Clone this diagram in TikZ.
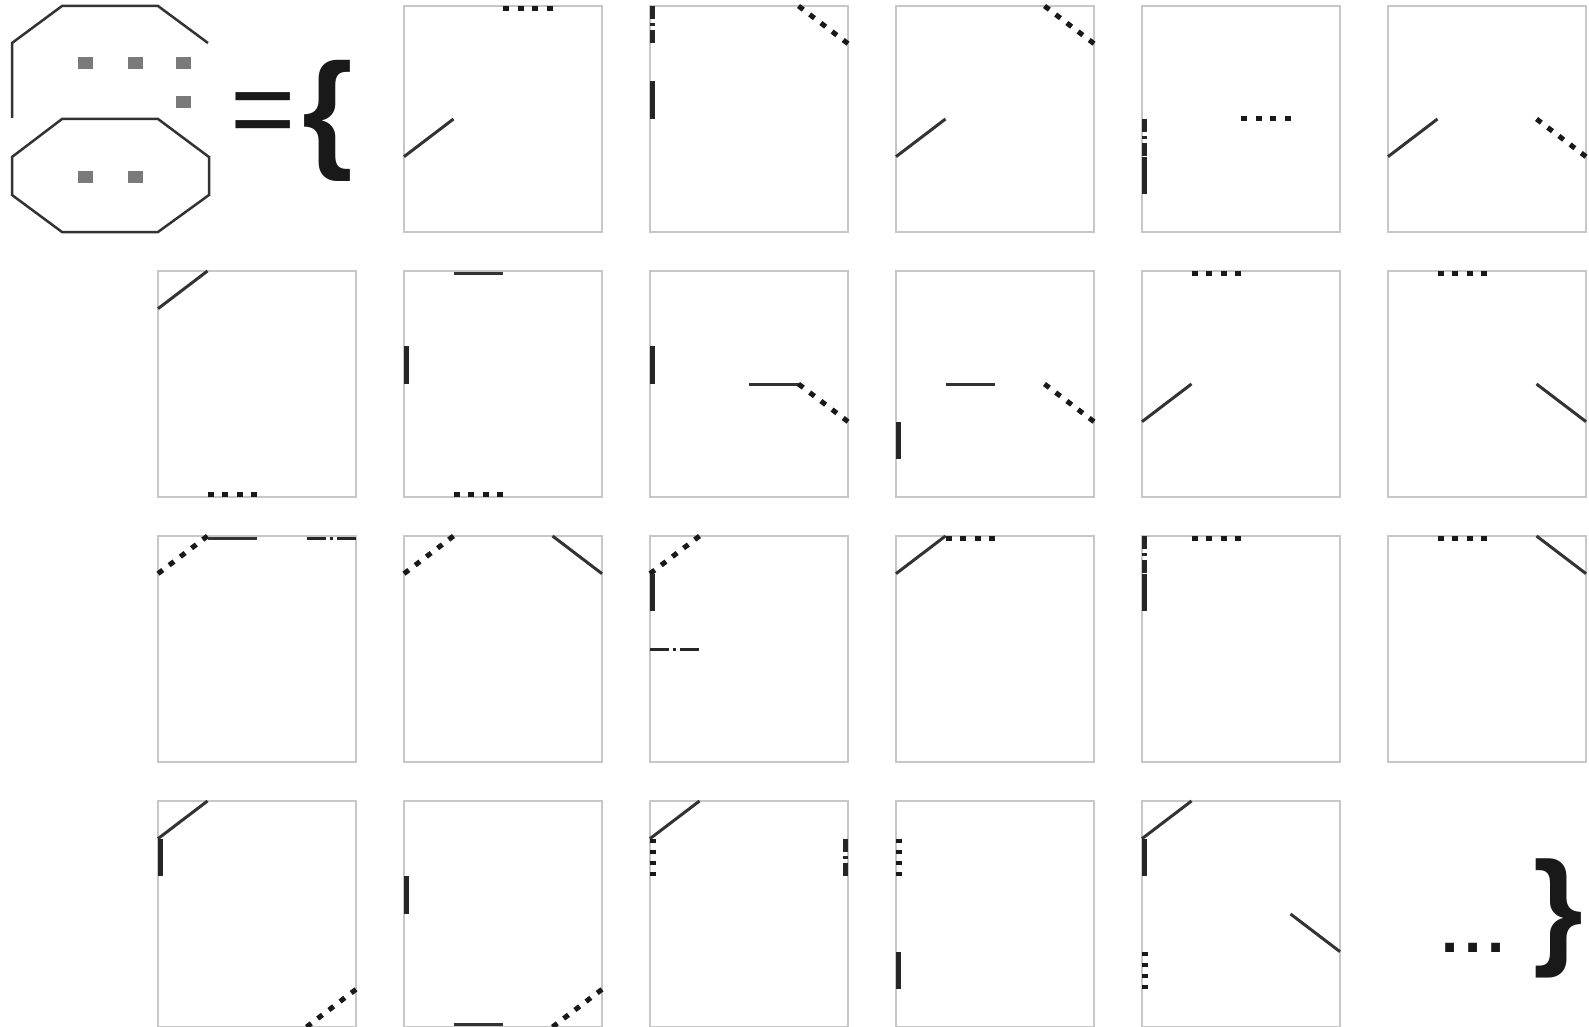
\documentclass[tikz,border=0pt]{standalone}
\usepackage{fontspec}
\setmainfont{Liberation Sans}

\tikzset{
  cellat/.style 2 args={shift={({158+246*(#1-1)},{6+265*(#2-1)})},x=49.5pt,y=-37.667pt},
  cellframe/.style={draw=black!22,line width=2pt},
  segline/.style={draw=black!80,line width=3pt},
  barline/.style={draw=black!85,line width=4.5pt},
  dotsH/.style={draw=black!90,line width=5pt,dash pattern=on 6pt off 8.5pt},
  dotsV/.style={draw=black!90,line width=6pt,dash pattern=on 4pt off 7.2pt},
  dotsD/.style={draw=black!90,line width=5pt,dash pattern=on 6pt off 8.05pt},
  dashdotH/.style={draw=black!85,line width=3pt,dash pattern=on 19pt off 4pt on 3pt off 4pt},
  dashdotV/.style={draw=black!85,line width=4.5pt,dash pattern=on 13pt off 4pt on 3pt off 4pt},
  onleft/.style={xshift=2.5pt},
  onright/.style={xshift=-2.5pt},
  ontop/.style={yshift=-2.5pt},
  onbottom/.style={yshift=2.5pt},
  outline/.style={draw=black!80,line width=2.5pt},
  bigsym/.style={inner sep=0pt,text=black!90,font=\bfseries\fontsize{#1}{#1}\selectfont},
  thinsym/.style={inner sep=0pt,text=black!90,font=\fontsize{#1}{#1}\selectfont}
}

\begin{document}
\begin{tikzpicture}[x=1pt,y=-1pt]

  \useasboundingbox (0,0) rectangle (1589,1027);

  % the shape and its parts
  \draw[outline] (12,118) -- (12,43) -- (62,6) -- (158,6) -- (208,43);
  \draw[outline] (62,119) -- (158,119) -- (209,157) -- (209,195) -- (158,232)
    -- (62,232) -- (12,195) -- (12,157) -- cycle;
  \foreach \p in {(85,63),(135,63),(183,63),(183,102),(85,177),(135,177)}
    \fill[black!52] \p +(-7.5,-6) rectangle +(7.5,6);

  \node[thinsym=112] (eqsign) at (263,120) {=};
  \node[bigsym=130] (lbrace) at (328,121) {\{};
  \node[bigsym=62] (moredots) at (1473,948) {.\kern6pt.\kern6pt.};
  \node[bigsym=128] (rbrace) at (1558,918) {\}};

  \foreach \c/\r in {2/1,3/1,4/1,5/1,6/1,1/2,2/2,3/2,4/2,5/2,6/2,
                     1/3,2/3,3/3,4/3,5/3,6/3,1/4,2/4,3/4,4/4,5/4}
    \draw[cellframe,cellat={\c}{\r}] (0,0) rectangle (4,6);

  % row 1
  \begin{scope}[cellat={2}{1}]
    \draw[dotsH,ontop] (2,0) -- (3,0);
    \draw[segline] (0,4) -- (1,3);
  \end{scope}
  \begin{scope}[cellat={3}{1}]
    \draw[dashdotV,onleft] (0,0) -- (0,1);
    \draw[barline,onleft] (0,2) -- (0,3);
    \draw[dotsD] (3,0) -- (4,1);
  \end{scope}
  \begin{scope}[cellat={4}{1}]
    \draw[segline] (0,4) -- (1,3);
    \draw[dotsD] (3,0) -- (4,1);
  \end{scope}
  \begin{scope}[cellat={5}{1}]
    \draw[dashdotV,onleft] (0,3) -- (0,4);
    \draw[barline,onleft] (0,4) -- (0,5);
    \draw[dotsH] (2,3) -- (3,3);
  \end{scope}
  \begin{scope}[cellat={6}{1}]
    \draw[segline] (0,4) -- (1,3);
    \draw[dotsD] (3,3) -- (4,4);
  \end{scope}

  % row 2
  \begin{scope}[cellat={1}{2}]
    \draw[segline] (0,1) -- (1,0);
    \draw[dotsH,onbottom] (1,6) -- (2,6);
  \end{scope}
  \begin{scope}[cellat={2}{2}]
    \draw[segline,ontop] (1,0) -- (2,0);
    \draw[barline,onleft] (0,2) -- (0,3);
    \draw[dotsH,onbottom] (1,6) -- (2,6);
  \end{scope}
  \begin{scope}[cellat={3}{2}]
    \draw[barline,onleft] (0,2) -- (0,3);
    \draw[segline] (2,3) -- (3,3);
    \draw[dotsD] (3,3) -- (4,4);
  \end{scope}
  \begin{scope}[cellat={4}{2}]
    \draw[barline,onleft] (0,4) -- (0,5);
    \draw[segline] (1,3) -- (2,3);
    \draw[dotsD] (3,3) -- (4,4);
  \end{scope}
  \begin{scope}[cellat={5}{2}]
    \draw[dotsH,ontop] (1,0) -- (2,0);
    \draw[segline] (0,4) -- (1,3);
  \end{scope}
  \begin{scope}[cellat={6}{2}]
    \draw[dotsH,ontop] (1,0) -- (2,0);
    \draw[segline] (3,3) -- (4,4);
  \end{scope}

  % row 3
  \begin{scope}[cellat={1}{3}]
    \draw[dotsD] (0,1) -- (1,0);
    \draw[segline,ontop] (1,0) -- (2,0);
    \draw[dashdotH,ontop] (3,0) -- (4,0);
  \end{scope}
  \begin{scope}[cellat={2}{3}]
    \draw[dotsD] (0,1) -- (1,0);
    \draw[segline] (3,0) -- (4,1);
  \end{scope}
  \begin{scope}[cellat={3}{3}]
    \draw[dotsD] (0,1) -- (1,0);
    \draw[barline,onleft] (0,1) -- (0,2);
    \draw[dashdotH] (0,3) -- (1,3);
  \end{scope}
  \begin{scope}[cellat={4}{3}]
    \draw[segline] (0,1) -- (1,0);
    \draw[dotsH,ontop] (1,0) -- (2,0);
  \end{scope}
  \begin{scope}[cellat={5}{3}]
    \draw[dashdotV,onleft] (0,0) -- (0,1);
    \draw[barline,onleft] (0,1) -- (0,2);
    \draw[dotsH,ontop] (1,0) -- (2,0);
  \end{scope}
  \begin{scope}[cellat={6}{3}]
    \draw[dotsH,ontop] (1,0) -- (2,0);
    \draw[segline] (3,0) -- (4,1);
  \end{scope}

  % row 4
  \begin{scope}[cellat={1}{4}]
    \draw[segline] (0,1) -- (1,0);
    \draw[barline,onleft] (0,1) -- (0,2);
    \draw[dotsD] (3,6) -- (4,5);
  \end{scope}
  \begin{scope}[cellat={2}{4}]
    \draw[barline,onleft] (0,2) -- (0,3);
    \draw[segline,onbottom] (1,6) -- (2,6);
    \draw[dotsD] (3,6) -- (4,5);
  \end{scope}
  \begin{scope}[cellat={3}{4}]
    \draw[segline] (0,1) -- (1,0);
    \draw[dotsV,onleft] (0,1) -- (0,2);
    \draw[dashdotV,onright] (4,1) -- (4,2);
  \end{scope}
  \begin{scope}[cellat={4}{4}]
    \draw[dotsV,onleft] (0,1) -- (0,2);
    \draw[barline,onleft] (0,4) -- (0,5);
  \end{scope}
  \begin{scope}[cellat={5}{4}]
    \draw[segline] (0,1) -- (1,0);
    \draw[barline,onleft] (0,1) -- (0,2);
    \draw[dotsV,onleft] (0,4) -- (0,5);
    \draw[segline] (3,3) -- (4,4);
  \end{scope}
\end{tikzpicture}
\end{document}
